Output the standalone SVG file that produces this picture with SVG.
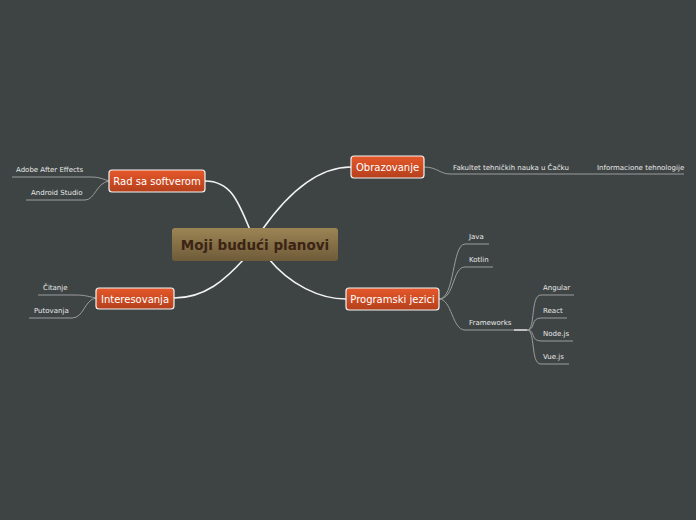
<svg xmlns="http://www.w3.org/2000/svg" width="696" height="520" viewBox="0 0 696 520">
<defs>
<linearGradient id="gc" x1="0" y1="0" x2="0" y2="1"><stop offset="0" stop-color="#9c8454"/><stop offset="1" stop-color="#6e5b39"/></linearGradient>
<linearGradient id="go" x1="0" y1="0" x2="0" y2="1"><stop offset="0" stop-color="#e6582a"/><stop offset="1" stop-color="#b4401c"/></linearGradient>
<style>
.m{fill:none;stroke:#f2f2f2;stroke-width:1.6}
.l{fill:none;stroke:#9a9c9c;stroke-width:1}
.n{fill:url(#go);stroke:#f4f4f4;stroke-width:1.2}
.nt{font-family:"DejaVu Sans",sans-serif;font-size:10px;fill:#fff;text-anchor:middle}
.lt{font-family:"DejaVu Sans",sans-serif;font-size:7px;fill:#e8e8e8}
</style>
</defs>
<rect width="696" height="520" fill="#3e4444"/>
<g id="connectors">
<path class="m" d="M205,181 C230,181 238,200 250,230"/>
<path class="m" d="M262,230 C290,190 320,167 351,167"/>
<path class="m" d="M174,298 C205,298 225,280 245,258"/>
<path class="m" d="M268,258 C290,285 320,299 346,299"/>
<path class="l" d="M109,181 C100,178 98,177 90,177 L12,177"/>
<path class="l" d="M109,181 C96,183 95,200 85,200 L26,200"/>
<path class="l" d="M424,167 C437,167 440,174 450,174 L684,174"/>
<path class="l" d="M439,299 C455,299 452,244 465,244 L489,244"/>
<path class="l" d="M439,299 C455,299 452,267 465,267 L493,267"/>
<path class="l" d="M439,299 C452,299 452,330 465,330 L514,330"/>
<path d="M514,330 L527,330" stroke="#e0e0e0" stroke-width="1.6"/>
<path class="l" d="M527,330 C536,330 530,295 541,295 L574,295"/>
<path class="l" d="M527,330 C536,330 530,318 541,318 L567,318"/>
<path class="l" d="M527,330 C536,330 530,341 541,341 L573,341"/>
<path class="l" d="M527,330 C536,330 530,364 541,364 L569,364"/>
<path class="l" d="M96,298 C86,296 84,295 76,295 L38,295"/>
<path class="l" d="M96,298 C84,300 84,318 72,318 L29,318"/>
</g>
<g id="center"><rect x="172" y="228" width="166" height="33" rx="3" fill="url(#gc)"/><text x="255" y="249.5" font-family="DejaVu Sans,sans-serif" font-weight="bold" font-size="13.5" fill="#3b2414" text-anchor="middle">Moji budući planovi</text></g>
<g id="rad"><rect class="n" x="109" y="170" width="96" height="22" rx="3"/><text class="nt" x="157" y="185">Rad sa softverom</text></g>
<g id="obr"><rect class="n" x="351" y="156" width="73" height="22" rx="3"/><text class="nt" x="387.5" y="171">Obrazovanje</text></g>
<g id="int"><rect class="n" x="96" y="288" width="78" height="21" rx="3"/><text class="nt" x="135" y="302.5">Interesovanja</text></g>
<g id="prog"><rect class="n" x="346" y="288" width="93" height="22" rx="3"/><text class="nt" x="392.5" y="303">Programski jezici</text></g>
<g id="leaves">
<text class="lt" x="16" y="172">Adobe After Effects</text>
<text class="lt" x="31" y="195">Android Studio</text>
<text class="lt" x="453" y="170">Fakultet tehničkih nauka u Čačku</text>
<text class="lt" x="597" y="170">Informacione tehnologije</text>
<text class="lt" x="469" y="239">Java</text>
<text class="lt" x="469" y="262">Kotlin</text>
<text class="lt" x="469" y="325">Frameworks</text>
<text class="lt" x="543" y="290">Angular</text>
<text class="lt" x="543" y="313">React</text>
<text class="lt" x="543" y="336">Node.js</text>
<text class="lt" x="543" y="359">Vue.js</text>
<text class="lt" x="43" y="290">Čitanje</text>
<text class="lt" x="34" y="313">Putovanja</text>
</g>
</svg>
